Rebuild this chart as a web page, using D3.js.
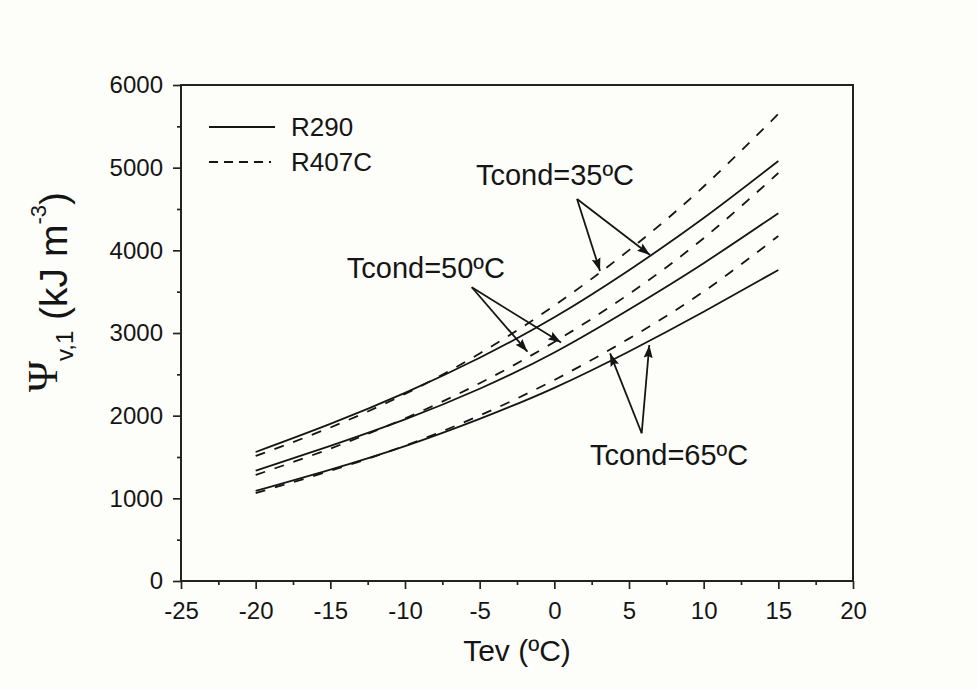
<!DOCTYPE html>
<html>
<head>
<meta charset="utf-8">
<script src="https://cdn.jsdelivr.net/npm/d3@7"></script>
<style>
  html, body { margin: 0; padding: 0; background: #fdfdfa; }
  svg { display: block; }
  text { font-family: "Liberation Sans", Arial, sans-serif; fill: #151515; }
</style>
</head>
<body>
<div id="chart"></div>
<script>
// evaporating temperature (ºC)
const tev = [-20, -15, -10, -5, 0, 5, 10, 15];

// volumetric capacity (kJ m-3) per refrigerant and condensing temperature
const r290_35 = [1560, 1900, 2275, 2700, 3190, 3760, 4390, 5080];
const r290_50 = [1335, 1635, 1955, 2325, 2765, 3285, 3845, 4450];
const r290_65 = [1089, 1347, 1632, 1962, 2337, 2777, 3257, 3762];
const r407c_35 = [1512, 1857, 2262, 2752, 3332, 4002, 4772, 5650];
const r407c_50 = [1282, 1602, 1967, 2392, 2892, 3472, 4147, 4935];
const r407c_65 = [1064, 1332, 1637, 2002, 2432, 2932, 3502, 4173];

const xTicks = [-25, -20, -15, -10, -5, 0, 5, 10, 15, 20];
const xMinor = [-22.5, -17.5, -12.5, -7.5, -2.5, 2.5, 7.5, 12.5, 17.5];
const yTicks = [0, 1000, 2000, 3000, 4000, 5000, 6000];
const yMinor = [500, 1500, 2500, 3500, 4500, 5500];

const seriesNames = ["R290", "R407C"];

// callouts, in data units: label start, arrow origin, arrow tips
const callouts = [
    {label: "Tcond=35ºC", at: [-5.25, 4790], from: [1.52, 4621], tips: [[3.06, 3750], [6.41, 3944]]},
    {label: "Tcond=50ºC", at: [-13.9, 3662], from: [-5.53, 3553], tips: [[-1.8, 2774], [0.45, 2885]]},
    {label: "Tcond=65ºC", at: [2.39, 1403], from: [5.85, 1787], tips: [[3.73, 2754], [6.36, 2855]]}
];

const W = 978, H = 690;
const plot = {left: 181, right: 853, top: 85, bottom: 581};

const svg = d3.select("#chart").append("svg")
    .attr("width", W)
    .attr("height", H);

svg.append("rect")
    .attr("width", W).attr("height", H)
    .attr("fill", "#fdfdfa");

const defs = svg.append("defs");
defs.append("marker")
    .attr("id", "head")
    .attr("markerUnits", "userSpaceOnUse")
    .attr("viewBox", "0 -5 13 10")
    .attr("refX", 13).attr("refY", 0)
    .attr("markerWidth", 13).attr("markerHeight", 10)
    .attr("orient", "auto")
  .append("path")
    .attr("d", "M0,-4.5L13,0L0,4.5L2,0Z")
    .attr("fill", "#151515");

const x = d3.scaleLinear().domain([-25, 20]).range([plot.left, plot.right]);
const y = d3.scaleLinear().domain([0, 6000]).range([plot.bottom, plot.top]);

// plain hyphen for negatives, as printed on the axis
const fmt = d => String(d);

// minor ticks first, then major ticks with labels
svg.append("g")
    .attr("transform", "translate(0," + plot.bottom + ")")
    .call(d3.axisBottom(x).tickValues(xMinor).tickSize(4).tickFormat(""))
    .call(g => g.select(".domain").remove());

svg.append("g")
    .attr("transform", "translate(" + plot.left + ",0)")
    .call(d3.axisLeft(y).tickValues(yMinor).tickSize(4).tickFormat(""))
    .call(g => g.select(".domain").remove());

const xAxis = svg.append("g")
    .attr("transform", "translate(0," + plot.bottom + ")")
    .call(d3.axisBottom(x).tickValues(xTicks).tickSize(8).tickSizeOuter(0).tickPadding(13).tickFormat(fmt));

const yAxis = svg.append("g")
    .attr("transform", "translate(" + plot.left + ",0)")
    .call(d3.axisLeft(y).tickValues(yTicks).tickSize(8).tickSizeOuter(0).tickPadding(10).tickFormat(fmt));

[xAxis, yAxis].forEach(g => {
    g.selectAll(".domain").remove();
    g.selectAll("text")
        .style("font-family", '"Liberation Sans", Arial, sans-serif')
        .style("font-size", "24px")
        .attr("fill", "#151515");
});
svg.selectAll(".tick line").attr("stroke", "#222").attr("stroke-width", 1.7);

// plot frame
svg.append("rect")
    .attr("x", plot.left).attr("y", plot.top)
    .attr("width", plot.right - plot.left)
    .attr("height", plot.bottom - plot.top)
    .attr("fill", "none")
    .attr("stroke", "#222")
    .attr("stroke-width", 2);

const line = d3.line()
    .x(d => x(d[0]))
    .y(d => y(d[1]))
    .curve(d3.curveNatural);

const curves = [
    {values: r290_35, dash: null},
    {values: r290_50, dash: null},
    {values: r290_65, dash: null},
    {values: r407c_35, dash: "10,10"},
    {values: r407c_50, dash: "10,10"},
    {values: r407c_65, dash: "10,10"}
];

svg.append("g").selectAll("path")
    .data(curves)
  .enter().append("path")
    .attr("d", c => line(tev.map((t, i) => [t, c.values[i]])))
    .attr("fill", "none")
    .attr("stroke", "#151515")
    .attr("stroke-width", 1.8)
    .attr("stroke-dasharray", c => c.dash);

// legend
const legend = svg.append("g").attr("transform", "translate(209,127)");
legend.selectAll("g")
    .data(seriesNames)
  .enter().append("g")
    .attr("transform", (d, i) => "translate(0," + (i * 35) + ")")
    .each(function(d, i) {
        const g = d3.select(this);
        g.append("line")
            .attr("x1", 0).attr("x2", i ? 62 : 66)
            .attr("stroke", "#151515")
            .attr("stroke-width", 1.8)
            .attr("stroke-dasharray", i ? "9,6" : null);
        g.append("text")
            .attr("x", 82).attr("y", 9)
            .style("font-size", "26px")
            .text(d);
    });

// callouts with arrows
const notes = svg.append("g");
callouts.forEach(c => {
    notes.append("text")
        .attr("x", x(c.at[0])).attr("y", y(c.at[1]))
        .style("font-size", "29px")
        .text(c.label);
    c.tips.forEach(tip => {
        notes.append("line")
            .attr("x1", x(c.from[0])).attr("y1", y(c.from[1]))
            .attr("x2", x(tip[0])).attr("y2", y(tip[1]))
            .attr("stroke", "#151515")
            .attr("stroke-width", 1.8)
            .attr("marker-end", "url(#head)");
    });
});

// axis titles
svg.append("text")
    .attr("x", (plot.left + plot.right) / 2)
    .attr("y", 661)
    .attr("text-anchor", "middle")
    .style("font-size", "30px")
    .text("Tev (ºC)");

const yTitle = svg.append("text")
    .attr("transform", "translate(67,392) rotate(-90)")
    .style("font-size", "39px");
yTitle.append("tspan")
    .attr("dy", -10)
    .style("font-family", '"Liberation Serif", "DejaVu Serif", serif')
    .style("font-size", "42px")
    .text("Ψ");
yTitle.append("tspan")
    .attr("dy", 16)
    .style("font-size", "24px")
    .text("v,1");
yTitle.append("tspan")
    .attr("dy", -6)
    .text(" (kJ m");
yTitle.append("tspan")
    .attr("dy", -21)
    .style("font-size", "22px")
    .text("-3");
yTitle.append("tspan")
    .attr("dy", 21)
    .text(")");
</script>
</body>
</html>
